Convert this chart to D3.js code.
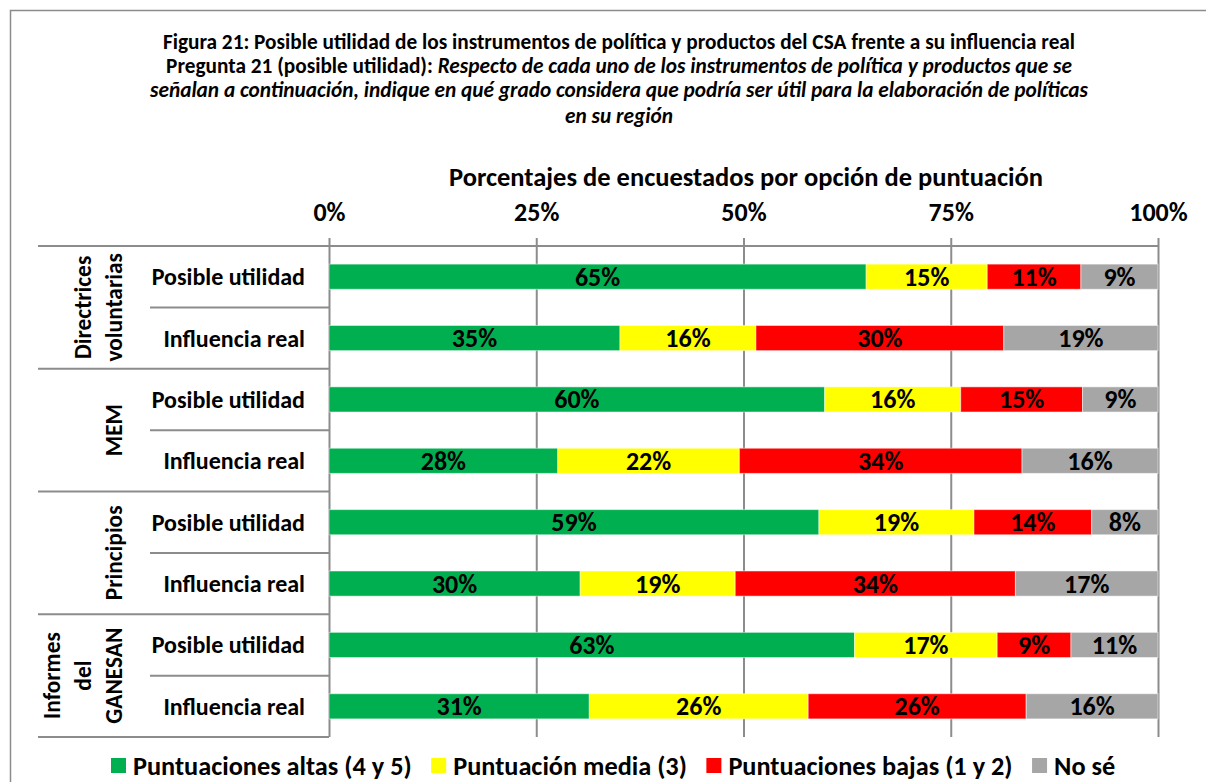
<!DOCTYPE html>
<html>
<head>
<meta charset="utf-8">
<script src="https://cdn.jsdelivr.net/npm/d3@7"></script>
<style>
  body { margin: 0; background: #fff; }
  svg { font-family: Carlito, Calibri, Lato, sans-serif; font-weight: bold; }
</style>
</head>
<body>
<script>
//Data
const groups = [["Directrices", "voluntarias"], ["MEM"], ["Principios"], ["Informes", "del", "GANESAN"]];
const subcats = ["Posible utilidad", "Influencia real"];
const seriesNames = ["Puntuaciones altas (4 y 5)", "Puntuación media (3)", "Puntuaciones bajas (1 y 2)", "No sé"];
const colors = ["#00B050", "#FFFF00", "#FF0000", "#A6A6A6"];
const altas = [64.8, 35.1, 59.8, 27.6, 59.1, 30.3, 63.4, 31.4];
const media = [14.6, 16.4, 16.4, 21.9, 18.7, 18.7, 17.2, 26.4];
const bajas = [11.3, 29.9, 14.7, 34.1, 14.2, 33.8, 8.9, 26.3];
const noSe  = [9.3, 18.6, 9.1, 16.4, 8.0, 17.2, 10.5, 15.9];
const ticks = [0, 25, 50, 75, 100];

//Dimensions
const width = 1206, height = 782;
const plotLeft = 329, plotRight = 1158, plotTop = 246, plotBottom = 737;

const rows = [];
groups.forEach((g, gi) => subcats.forEach((s, si) => rows.push({id: gi + "-" + si, group: gi, sub: s})));
rows.forEach((r, i) => {
  r.values = [altas[i], media[i], bajas[i], noSe[i]];
});

const svg = d3.select("body").append("svg")
  .attr("width", width).attr("height", height);

//Frame
svg.append("rect")
  .attr("x", 10.5).attr("y", 10.5).attr("width", 1200).attr("height", 800)
  .attr("fill", "none").attr("stroke", "#8c8c8c").attr("stroke-width", 1.5);

//Title
const title = svg.append("g").attr("font-size", 21.3).attr("text-anchor", "middle").attr("fill", "#000");
title.append("text").attr("x", 619).attr("y", 49)
  .text("Figura 21: Posible utilidad de los instrumentos de política y productos del CSA frente a su influencia real");
const t2 = title.append("text").attr("x", 619).attr("y", 73);
t2.append("tspan").text("Pregunta 21 (posible utilidad): ");
t2.append("tspan").attr("font-style", "italic").text("Respecto de cada uno de los instrumentos de política y productos que se");
title.append("text").attr("x", 619).attr("y", 97).attr("font-style", "italic")
  .text("señalan a continuación, indique en qué grado considera que podría ser útil para la elaboración de políticas");
title.append("text").attr("x", 619).attr("y", 123).attr("font-style", "italic")
  .text("en su región");

//Scales
const x = d3.scaleLinear().domain([0, 100]).range([plotLeft, plotRight]);
const y = d3.scaleBand().domain(rows.map(r => r.id)).range([plotTop, plotBottom])
  .paddingInner(0.59).paddingOuter(0.295);

//Axis title
svg.append("text").attr("x", 746).attr("y", 186)
  .attr("text-anchor", "middle").attr("font-size", 26.5)
  .text("Porcentajes de encuestados por opción de puntuación");

//Top axis with gridlines
const axis = svg.append("g").attr("transform", "translate(0,238)")
  .call(d3.axisTop(x).tickValues(ticks).tickFormat(d => d + "%")
    .tickSize(-(plotBottom - 238)).tickPadding(17));
axis.select(".domain").remove();
axis.attr("font-family", null).attr("font-size", null);
axis.selectAll(".tick line").attr("stroke", "#8c8c8c").attr("stroke-width", 2);
axis.selectAll(".tick text").attr("font-size", 26).attr("fill", "#000");

//Category separators
const step = y.step();
svg.append("line").attr("x1", 38).attr("x2", plotRight).attr("y1", plotTop).attr("y2", plotTop)
  .attr("stroke", "#8c8c8c").attr("stroke-width", 2);
groups.forEach((g, gi) => {
  const gy0 = plotTop + gi * 2 * step;
  svg.append("line").attr("x1", 150).attr("x2", plotLeft).attr("y1", gy0 + step).attr("y2", gy0 + step)
    .attr("stroke", "#8c8c8c").attr("stroke-width", 2);
  svg.append("line").attr("x1", 38).attr("x2", plotLeft).attr("y1", gy0 + 2 * step).attr("y2", gy0 + 2 * step)
    .attr("stroke", "#8c8c8c").attr("stroke-width", 2);
  //group label, rotated
  const cy = gy0 + step;
  const gt = svg.append("text").attr("transform", "translate(" + 122 + "," + cy + ") rotate(-90)")
    .attr("text-anchor", "middle").attr("font-size", 23.4);
  const n = g.length;
  g.forEach((line, li) => {
    gt.append("tspan").attr("x", 0).attr("y", -(n - 1 - li) * 31).text(line);
  });
});

//Sub-category labels
svg.selectAll(".sub").data(rows).enter().append("text")
  .attr("x", 305).attr("y", d => y(d.id) + y.bandwidth() / 2 + 8.5)
  .attr("text-anchor", "end").attr("font-size", 24)
  .text(d => d.sub);

//Stacked bars
const fmt = d3.format(".0f");
rows.forEach(r => {
  let acc = 0;
  r.values.forEach((v, i) => {
    const x0 = acc;
    acc += v;
    svg.append("rect")
      .attr("x", x(x0)).attr("y", y(r.id))
      .attr("width", x(acc) - x(x0)).attr("height", y.bandwidth())
      .attr("fill", colors[i]).attr("stroke", "#fff").attr("stroke-opacity", 0.5).attr("stroke-width", 1);
    svg.append("text")
      .attr("x", (x(x0) + x(acc)) / 2).attr("y", y(r.id) + y.bandwidth() / 2 + 9)
      .attr("text-anchor", "middle").attr("font-size", 26)
      .text(fmt(v) + "%");
  });
});

//Legend
const legend = svg.append("g").attr("transform", "translate(111,766)");
let lx = 0;
seriesNames.forEach((name, i) => {
  legend.append("rect").attr("x", lx).attr("y", -8).attr("width", 15).attr("height", 15).attr("fill", colors[i]);
  const t = legend.append("text").attr("x", lx + 22).attr("y", 9).attr("font-size", 26.3).text(name);
  lx += 22 + t.node().getComputedTextLength() + 19.5;
});
</script>
</body>
</html>
